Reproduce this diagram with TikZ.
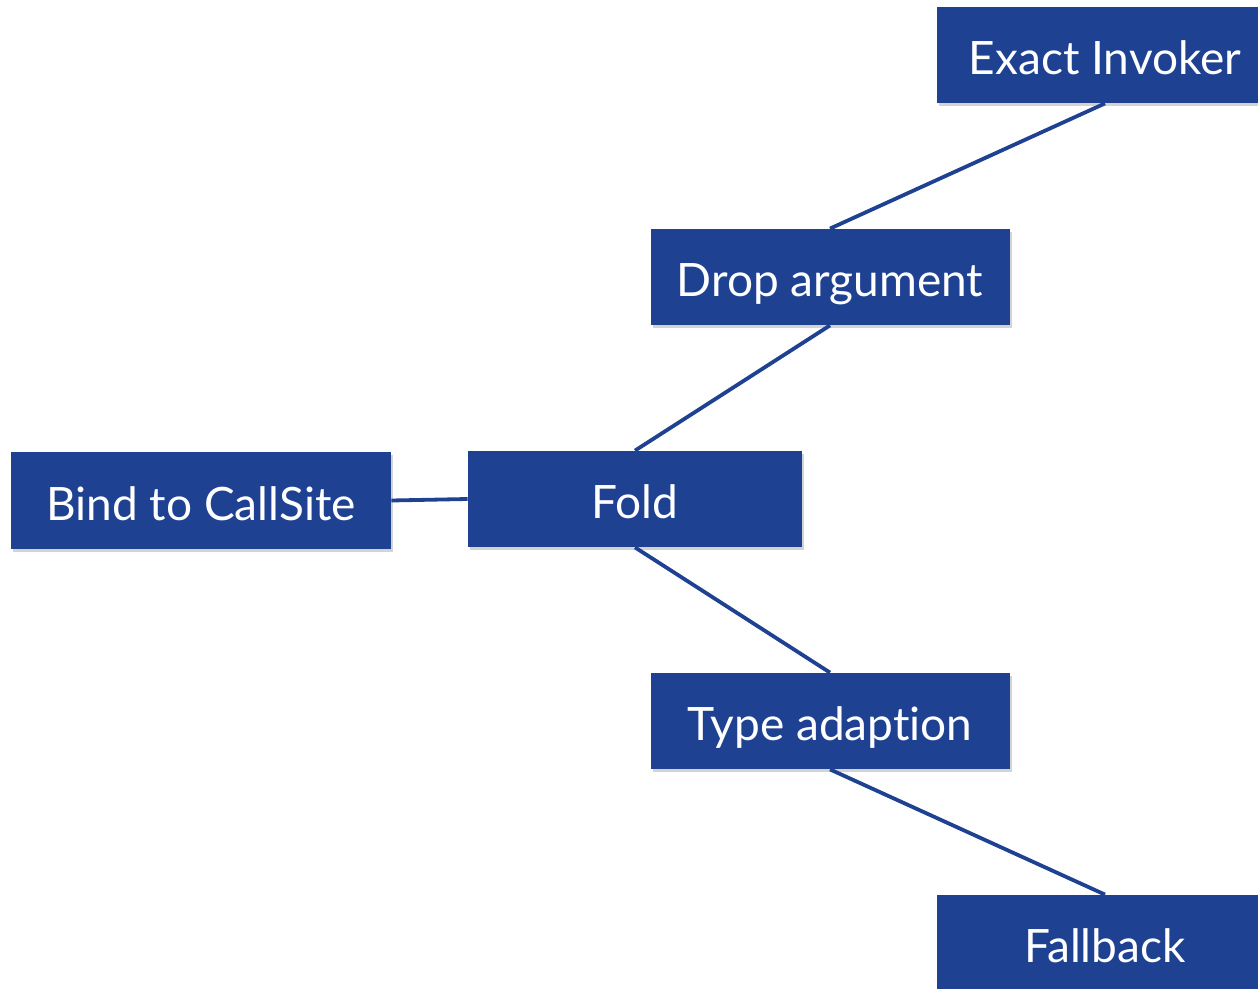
\documentclass[tikz,border=0pt]{standalone}
\usepackage{fontspec}
\setmainfont{Lato}[Ligatures=NoCommon]
\usepackage{xcolor}
\usetikzlibrary{shadows}

\definecolor{geblue}{HTML}{1F4192}

\tikzset{
  stage/.style={rectangle, fill=geblue, text=white, inner sep=0pt,
    minimum height=48pt, text height=22pt, text depth=2.5pt,
    font=\fontsize{23}{26}\selectfont,
    drop shadow={shadow xshift=1.2pt, shadow yshift=-1.5pt, opacity=0.35}},
  link/.style={draw=geblue, line width=1.9pt}
}

\begin{document}
\begin{tikzpicture}[x=0.5pt, y=-0.5pt]
\useasboundingbox (0,0) rectangle (1258,989);
\clip (0,0) rectangle (1258,989);

% chain of stages
\node[stage, minimum width=168pt] (invoker) at (1105,55) {Exact Invoker};
\node[stage, minimum width=179.5pt] (drop) at (830,277) {Drop argument};
\node[stage, minimum width=167pt] (fold) at (635,499) {Fold};
\node[stage, minimum width=190pt] (bind) at (201,500.5) {Bind to CallSite};
\node[stage, minimum width=179.5pt] (adapt) at (830,721) {Type adaption};
\node[stage, minimum width=168pt] (fallback) at (1105,943) {Fallback};

% connectors
\draw[link] (invoker.south) -- (drop.north);
\draw[link] (drop.south) -- (fold.north);
\draw[link] (bind.east) -- (fold.west);
\draw[link] (fold.south) -- (adapt.north);
\draw[link] (adapt.south) -- (fallback.north);
\end{tikzpicture}
\end{document}
